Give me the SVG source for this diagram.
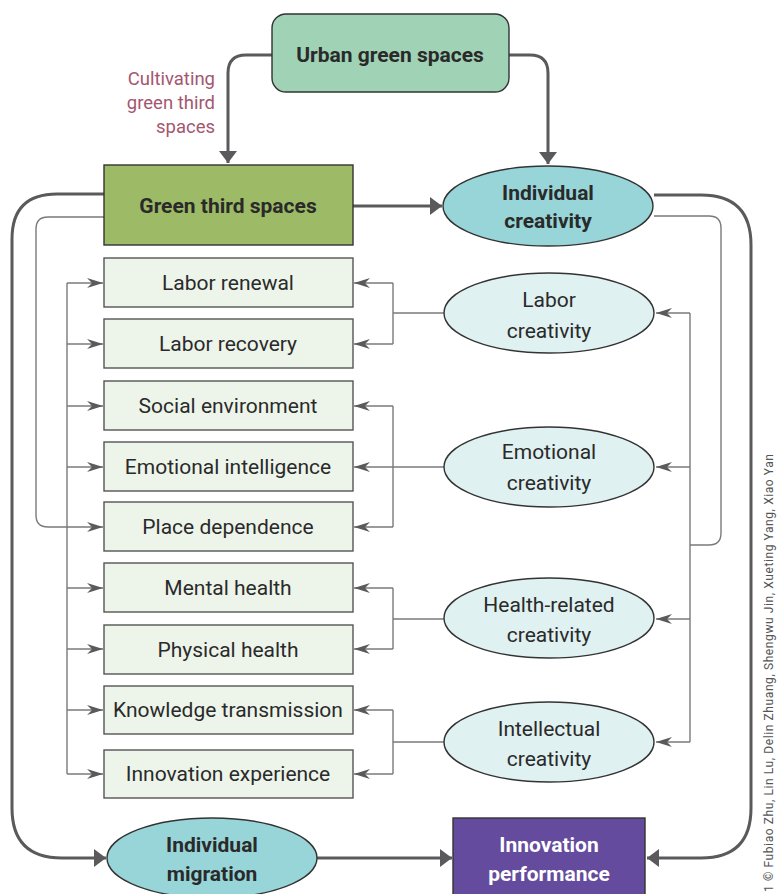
<svg xmlns="http://www.w3.org/2000/svg" width="780" height="894" viewBox="0 0 780 894">
  <style>
    .t { font-family: Roboto, "Liberation Sans", sans-serif; fill: #2a2a2a; }
    .reg { font-size: 21px; }
    .b { font-size: 21px; font-weight: bold; }
    .box { fill: #edf5ea; stroke: #555; stroke-width: 1.4; }
    .oval { fill: #e0f1f1; stroke: #333; stroke-width: 1.4; }
    .thick { fill: none; stroke: #5a5a5c; stroke-width: 3; }
    .thin { fill: none; stroke: #7a7a7c; stroke-width: 1.4; }
  </style>
  <defs>
    <marker id="big" markerUnits="userSpaceOnUse" markerWidth="14" markerHeight="20" refX="12" refY="9" orient="auto">
      <path d="M0,0 L12,9 L0,18 z" fill="#5a5a5c"/>
    </marker>
    <marker id="small" markerUnits="userSpaceOnUse" markerWidth="18" markerHeight="12" refX="16" refY="6" orient="auto">
      <path d="M0,1 L16,6 L0,11 L5,6 z" fill="#5a5a5c"/>
    </marker>
  </defs>

  <!-- connectors -->
  <g id="connectors">
    <!-- urban green spaces outputs -->
    <path class="thick" d="M272,55 H246 Q228,55 228,73 V163" marker-end="url(#big)"/>
    <path class="thick" d="M509,55 H530 Q548,55 548,73 V164" marker-end="url(#big)"/>
    <path class="thick" d="M353,206 H442" marker-end="url(#big)"/>
    <!-- outer loops -->
    <path class="thick" d="M104,194 H57 Q12,194 12,239 V808 Q12,858 62,858 H106" marker-end="url(#big)"/>
    <path class="thick" d="M317,858 H452" marker-end="url(#big)"/>
    <path class="thick" d="M654,195 H701 Q751,195 751,245 V808 Q751,858 701,858 H647" marker-end="url(#big)"/>
    <!-- inner thin loops -->
    <path class="thin" d="M104,217 H48 Q36,217 36,229 V515 Q36,527 48,527 H103" marker-end="url(#small)"/>
    <path class="thin" d="M654,216 H709 Q721,216 721,228 V533 Q721,545 709,545 H690"/>
    <!-- left bus to dimension boxes -->
    <path class="thin" d="M67,283 V774"/>
    <path class="thin" d="M67,283 H103" marker-end="url(#small)"/>
    <path class="thin" d="M67,344 H103" marker-end="url(#small)"/>
    <path class="thin" d="M67,406 H103" marker-end="url(#small)"/>
    <path class="thin" d="M67,467 H103" marker-end="url(#small)"/>
    <path class="thin" d="M67,588 H103" marker-end="url(#small)"/>
    <path class="thin" d="M67,649 H103" marker-end="url(#small)"/>
    <path class="thin" d="M67,710 H103" marker-end="url(#small)"/>
    <path class="thin" d="M67,774 H103" marker-end="url(#small)"/>
    <!-- right bus to creativity ovals -->
    <path class="thin" d="M690,313 V742"/>
    <path class="thin" d="M690,313 H656" marker-end="url(#small)"/>
    <path class="thin" d="M690,467 H656" marker-end="url(#small)"/>
    <path class="thin" d="M690,619 H656" marker-end="url(#small)"/>
    <path class="thin" d="M690,742 H656" marker-end="url(#small)"/>
    <!-- creativity ovals to their boxes -->
    <path class="thin" d="M444,313 H393"/>
    <path class="thin" d="M393,283 V344"/>
    <path class="thin" d="M393,283 H354" marker-end="url(#small)"/>
    <path class="thin" d="M393,344 H354" marker-end="url(#small)"/>
    <path class="thin" d="M444,467 H354" marker-end="url(#small)"/>
    <path class="thin" d="M393,406 V527"/>
    <path class="thin" d="M393,406 H354" marker-end="url(#small)"/>
    <path class="thin" d="M393,527 H354" marker-end="url(#small)"/>
    <path class="thin" d="M444,619 H393"/>
    <path class="thin" d="M393,588 V649"/>
    <path class="thin" d="M393,588 H354" marker-end="url(#small)"/>
    <path class="thin" d="M393,649 H354" marker-end="url(#small)"/>
    <path class="thin" d="M444,742 H393"/>
    <path class="thin" d="M393,710 V774"/>
    <path class="thin" d="M393,710 H354" marker-end="url(#small)"/>
    <path class="thin" d="M393,774 H354" marker-end="url(#small)"/>
  </g>

  <text class="t" x="215" y="85" font-size="18.5" text-anchor="end" style="fill:#a4566f">Cultivating</text>
  <text class="t" x="215" y="109" font-size="18.5" text-anchor="end" style="fill:#a4566f">green third</text>
  <text class="t" x="215" y="133" font-size="18.5" text-anchor="end" style="fill:#a4566f">spaces</text>

  <g id="urban-green-spaces">
    <rect x="272" y="14" width="237" height="78" rx="14" fill="#a0d2b5" stroke="#333" stroke-width="1.4"/>
    <text class="t b" x="390" y="62" text-anchor="middle">Urban green spaces</text>
  </g>
  <g id="green-third-spaces">
    <rect x="104" y="165" width="249" height="80" fill="#9dbb66" stroke="#333" stroke-width="1.4"/>
    <text class="t b" x="228" y="213" text-anchor="middle">Green third spaces</text>
  </g>
  <g id="individual-creativity">
    <ellipse cx="548" cy="206" rx="105" ry="40" fill="#97d5d8" stroke="#333" stroke-width="1.4"/>
    <text class="t b" x="548" y="200" text-anchor="middle">Individual</text>
    <text class="t b" x="548" y="228" text-anchor="middle">creativity</text>
  </g>

  <g id="labor-renewal"><rect class="box" x="104" y="258" width="249" height="49"/><text class="t reg" x="228" y="290" text-anchor="middle">Labor renewal</text></g>
  <g id="labor-recovery"><rect class="box" x="104" y="319" width="249" height="49"/><text class="t reg" x="228" y="351" text-anchor="middle">Labor recovery</text></g>
  <g id="social-environment"><rect class="box" x="104" y="381" width="249" height="49"/><text class="t reg" x="228" y="413" text-anchor="middle">Social environment</text></g>
  <g id="emotional-intelligence"><rect class="box" x="104" y="442" width="249" height="49"/><text class="t reg" x="228" y="474" text-anchor="middle">Emotional intelligence</text></g>
  <g id="place-dependence"><rect class="box" x="104" y="502" width="249" height="49"/><text class="t reg" x="228" y="534" text-anchor="middle">Place dependence</text></g>
  <g id="mental-health"><rect class="box" x="104" y="563" width="249" height="49"/><text class="t reg" x="228" y="595" text-anchor="middle">Mental health</text></g>
  <g id="physical-health"><rect class="box" x="104" y="625" width="249" height="49"/><text class="t reg" x="228" y="657" text-anchor="middle">Physical health</text></g>
  <g id="knowledge-transmission"><rect class="box" x="104" y="686" width="249" height="48"/><text class="t reg" x="228" y="717" text-anchor="middle">Knowledge transmission</text></g>
  <g id="innovation-experience"><rect class="box" x="104" y="750" width="249" height="48"/><text class="t reg" x="228" y="781" text-anchor="middle">Innovation experience</text></g>

  <g id="labor-creativity">
    <ellipse class="oval" cx="549" cy="313" rx="105" ry="40"/>
    <text class="t reg" x="549" y="307" text-anchor="middle">Labor</text>
    <text class="t reg" x="549" y="338" text-anchor="middle">creativity</text>
  </g>
  <g id="emotional-creativity">
    <ellipse class="oval" cx="549" cy="467" rx="105" ry="40"/>
    <text class="t reg" x="549" y="459" text-anchor="middle">Emotional</text>
    <text class="t reg" x="549" y="490" text-anchor="middle">creativity</text>
  </g>
  <g id="health-related-creativity">
    <ellipse class="oval" cx="549" cy="618" rx="105" ry="40"/>
    <text class="t reg" x="549" y="612" text-anchor="middle">Health-related</text>
    <text class="t reg" x="549" y="642" text-anchor="middle">creativity</text>
  </g>
  <g id="intellectual-creativity">
    <ellipse class="oval" cx="549" cy="742" rx="105" ry="40"/>
    <text class="t reg" x="549" y="736" text-anchor="middle">Intellectual</text>
    <text class="t reg" x="549" y="766" text-anchor="middle">creativity</text>
  </g>

  <g id="individual-migration">
    <ellipse cx="212" cy="858" rx="105" ry="40" fill="#97d5d8" stroke="#333" stroke-width="1.4"/>
    <text class="t b" x="212" y="852" text-anchor="middle">Individual</text>
    <text class="t b" x="212" y="881" text-anchor="middle">migration</text>
  </g>
  <g id="innovation-performance">
    <rect x="453" y="818" width="192" height="82" fill="#644b9d" stroke="#333" stroke-width="1.4"/>
    <text class="t b" x="549" y="852" text-anchor="middle" style="fill:#fff">Innovation</text>
    <text class="t b" x="549" y="881" text-anchor="middle" style="fill:#fff">performance</text>
  </g>

  <text class="t" transform="translate(773,892) rotate(-90)" font-size="12" textLength="438" style="fill:#555">1 © Fubiao Zhu, Lin Lu, Delin Zhuang, Shengwu Jin, Xueting Yang, Xiao Yan</text>
</svg>
